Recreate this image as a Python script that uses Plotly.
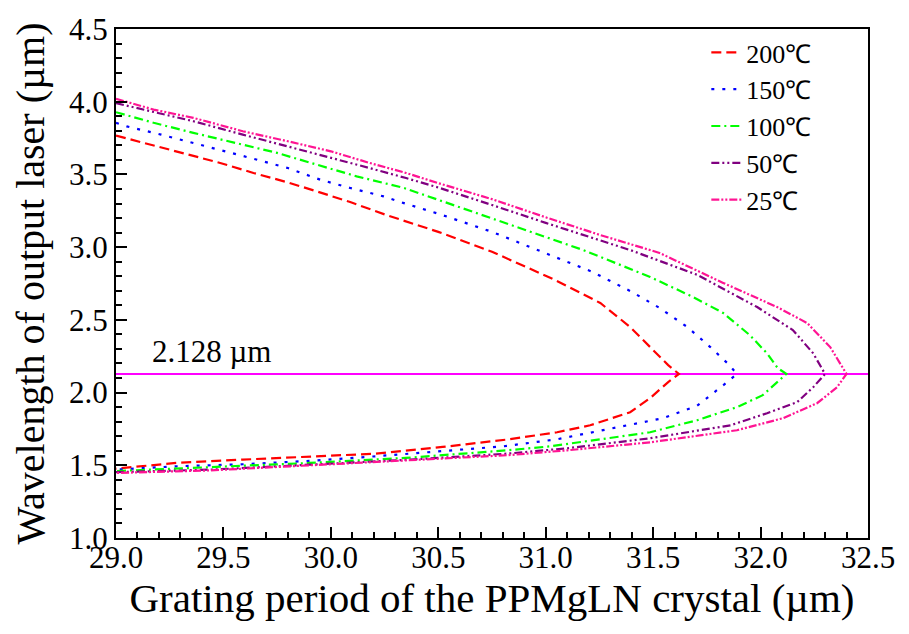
import plotly.graph_objects as go

labels = ["200℃", "150℃", "100℃", "50℃", "25℃"]
colors = ["#FF0000", "#0000FF", "#00FF00", "#800080", "#FF1493"]
dashes = ["10px,5px", "3px,8px", "9px,4px,2px,4px", "8px,3px,2px,3px,2px,3px", "8px,2px,2px,2px,2px,2px"]

# upper branch (idler) then lower branch (signal), per temperature
x200 = [29.0, 29.17, 29.33, 29.485, 29.64, 29.80, 29.935, 30.09, 30.26, 30.34, 30.5, 30.75, 31.035, 31.254, 31.393, 31.50, 31.57, 31.62,
        31.57, 31.486, 31.393, 31.207, 31.053, 30.82, 30.52, 30.21, 29.90, 29.59, 29.28, 29.0]
y200 = [3.767, 3.70, 3.636, 3.579, 3.51, 3.445, 3.383, 3.31, 3.22, 3.18, 3.105, 2.968, 2.78, 2.616, 2.451, 2.292, 2.189, 2.128,
        2.072, 1.962, 1.865, 1.775, 1.727, 1.677, 1.626, 1.58, 1.562, 1.539, 1.516, 1.477]

x150 = [29.0, 29.05, 29.21, 29.36, 29.50, 29.66, 29.80, 29.95, 30.09, 30.245, 30.34, 30.5, 30.75, 31.02, 31.217, 31.40, 31.53, 31.66, 31.766, 31.845, 31.89,
        31.826, 31.705, 31.547, 31.333, 31.053, 30.80, 30.52, 30.21, 29.90, 29.59, 29.28, 29.0]
y150 = [3.855, 3.83, 3.774, 3.717, 3.659, 3.60, 3.544, 3.464, 3.407, 3.349, 3.303, 3.23, 3.105, 2.947, 2.83, 2.693, 2.582, 2.45, 2.313, 2.203, 2.128,
        2.05, 1.91, 1.824, 1.762, 1.679, 1.63, 1.596, 1.562, 1.53, 1.507, 1.493, 1.47]

x100 = [29.0, 29.175, 29.36, 29.56, 29.75, 29.935, 30.12, 30.34, 30.5, 30.75, 31.0, 31.175, 31.486, 31.686, 31.826, 31.95, 32.03, 32.08, 32.12,
        32.076, 32.01, 31.89, 31.705, 31.486, 31.02, 30.82, 30.37, 29.90, 29.44, 29.0]
y100 = [3.928, 3.855, 3.786, 3.717, 3.648, 3.567, 3.487, 3.407, 3.326, 3.20, 3.07, 2.98, 2.795, 2.657, 2.547, 2.395, 2.27, 2.168, 2.128,
        2.072, 1.982, 1.90, 1.81, 1.727, 1.63, 1.603, 1.553, 1.516, 1.488, 1.46]

x50 = [29.0, 29.13, 29.36, 29.59, 29.80, 30.0, 30.18, 30.35, 30.5, 30.75, 31.0, 31.393, 31.705, 31.984, 32.15, 32.245, 32.30,
       32.245, 32.17, 32.03, 31.86, 31.486, 31.10, 30.82, 30.37, 29.90, 29.44, 29.0]
y50 = [3.99, 3.946, 3.866, 3.774, 3.693, 3.613, 3.544, 3.475, 3.41, 3.29, 3.167, 2.98, 2.81, 2.588, 2.43, 2.27, 2.128,
       2.037, 1.934, 1.858, 1.775, 1.686, 1.617, 1.58, 1.539, 1.504, 1.47, 1.453]

x25 = [29.0, 29.175, 29.36, 29.59, 29.80, 30.0, 30.18, 30.35, 30.5, 30.75, 31.0, 31.25, 31.53, 31.826, 32.077, 32.217, 32.324, 32.40,
       32.356, 32.263, 32.105, 31.89, 31.486, 31.10, 30.82, 30.37, 29.90, 29.44, 29.0]
y25 = [4.02, 3.946, 3.889, 3.797, 3.728, 3.659, 3.579, 3.51, 3.44, 3.33, 3.205, 3.085, 2.96, 2.754, 2.588, 2.478, 2.313, 2.128,
       2.037, 1.927, 1.824, 1.741, 1.658, 1.603, 1.569, 1.534, 1.498, 1.465, 1.447]

pump_line_x = [29.0, 32.5]
pump_line_y = [2.128, 2.128]
pump_label = "2.128 µm"

xs = [x200, x150, x100, x50, x25]
ys = [y200, y150, y100, y50, y25]

FONT = "Liberation Serif"

fig = go.Figure()
fig.add_trace(go.Scatter(x=pump_line_x, y=pump_line_y, mode="lines",
                         line=dict(color="#FF00FF", width=2), showlegend=False, hoverinfo="skip"))
for i in range(5):
    fig.add_trace(go.Scatter(x=xs[i], y=ys[i], mode="lines", name=labels[i],
                             legendgroup=labels[i],
                             line=dict(color=colors[i], width=2.2, dash=dashes[i])))

fig.add_annotation(x=29.16, y=2.128, xref="x", yref="y", text=pump_label, showarrow=False,
                   xanchor="left", yanchor="bottom", yshift=3,
                   font=dict(family=FONT, size=31, color="black"))

axis_common = dict(showline=True, linecolor="black", linewidth=2, mirror=True,
                   ticks="inside", ticklen=11, tickwidth=2, tickcolor="black",
                   showgrid=False, zeroline=False, automargin=False,
                   tickfont=dict(family=FONT, size=31, color="black"))

fig.update_xaxes(range=[29.0, 32.5], dtick=0.5, tick0=29.0, tickformat=".1f",
                 ticklabelstandoff=-9,
                 minor=dict(ticks="inside", ticklen=6, tickwidth=1.5, dtick=0.1, tickcolor="black"),
                 title=dict(text="Grating period of the PPMgLN crystal (µm)",
                            font=dict(family=FONT, size=41, color="black"), standoff=9),
                 **axis_common)
fig.update_yaxes(range=[1.0, 4.5], dtick=0.5, tick0=1.0, tickformat=".1f",
                 minor=dict(ticks="inside", ticklen=6, tickwidth=1.5, dtick=0.1, tickcolor="black"),
                 title=dict(text="Wavelength of output laser (µm)",
                            font=dict(family=FONT, size=40, color="black"), standoff=17),
                 **axis_common)

fig.update_layout(
    width=893, height=618,
    margin=dict(l=108, r=33, t=21, b=88),
    font=dict(family=FONT, color="black"),
    plot_bgcolor="white", paper_bgcolor="white",
    legend=dict(x=0.785, y=1.0, xanchor="left", yanchor="top",
                bgcolor="rgba(0,0,0,0)", borderwidth=0,
                font=dict(family=FONT, size=26, color="black"),
                tracegroupgap=0),
)

fig.write_html("out.html")
